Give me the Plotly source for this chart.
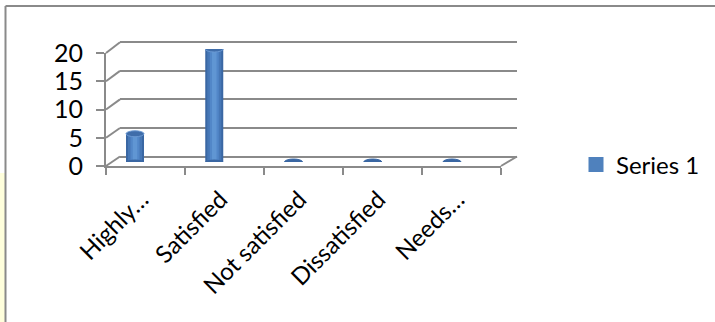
import plotly.graph_objects as go

# ---- data ----
categories = ["Highly…", "Satisfied", "Not satisfied", "Dissatisfied", "Needs…"]
values = [5, 20, 0, 0, 0]
series_name = "Series 1"
y_ticks = [0, 5, 10, 15, 20]

# ---- layout constants (pixels) ----
W, H = 715, 322
FONT = "Lato, Carlito, Calibri, sans-serif"
GRID = "#8a8a8a"

def px(x):
    return x / W

def py(y):
    return 1 - y / H

# front axis frame
FX0, FX1, FY0, FY1 = 106, 501, 166, 53
# back wall
BX0, BX1, BY0, BY1 = 120, 517, 156.5, 42.3
# bar plane (mid depth)
STEP = 79.25
BAR_C0 = 135
BX_L, BX_R = BAR_C0 - STEP / 2, BAR_C0 - STEP / 2 + 5 * STEP
BARY0, BARY1 = 162, 49
BAR_PX = 18

YMAX = 20.0
PAD = 0.6  # data units of padding so edge gridlines are drawn


def back_y(v):
    return BY0 + (BY1 - BY0) * v / YMAX


fig = go.Figure()

idx = list(range(len(categories)))
bar_w = BAR_PX / STEP
# cylinder shading via overlaid bars
for w, col in [(1.0, "#3A67A3"), (0.78, "#4677B6"), (0.5, "#5287C8"), (0.25, "#6096D3")]:
    fig.add_trace(go.Bar(x=idx, y=values, width=bar_w * w, marker=dict(color=col, line=dict(width=0)),
                         xaxis="x3", yaxis="y3", showlegend=False, hoverinfo="skip"))

# legend entry
fig.add_trace(go.Scatter(x=[None], y=[None], mode="markers", name=series_name,
                         marker=dict(symbol="square", size=15, color="#4F81BD"),
                         xaxis="x3", yaxis="y3"))

# dummy traces on back wall & front axes to make them render
fig.add_trace(go.Scatter(x=[None], y=[None], xaxis="x", yaxis="y", showlegend=False))
fig.add_trace(go.Scatter(x=categories, y=[None] * len(categories), xaxis="x2", yaxis="y2", showlegend=False))

shapes = []
# cylinder bottoms and tops
for i, v in zip(idx, values):
    shapes.append(dict(type="circle", xref="x3", yref="y3", xsizemode="pixel", ysizemode="pixel",
                       xanchor=i, yanchor=0, x0=-BAR_PX / 2, x1=BAR_PX / 2, y0=-2.5, y1=2.5,
                       fillcolor="#3A67A3", line=dict(width=0), layer="above"))
    shapes.append(dict(type="circle", xref="x3", yref="y3", xsizemode="pixel", ysizemode="pixel",
                       xanchor=i, yanchor=v, x0=-BAR_PX / 2, x1=BAR_PX / 2, y0=-3, y1=3,
                       fillcolor="#3F6DAA" if v > 0 else "#3A67A3",
                       line=dict(width=1, color="#6A98D2" if v > 0 else "#3A67A3"), layer="above"))

# diagonal connectors from front axis ticks to back wall gridlines
for t in y_ticks:
    yf = FY0 + (FY1 - FY0) * t / YMAX
    yb = back_y(t)
    shapes.append(dict(type="line", xref="paper", yref="paper", x0=px(FX0), y0=py(yf), x1=px(BX0), y1=py(yb),
                       line=dict(color=GRID, width=2), layer="below"))
# floor right edge
shapes.append(dict(type="line", xref="paper", yref="paper", x0=px(FX1), y0=py(FY0), x1=px(BX1), y1=py(BY0),
                   line=dict(color=GRID, width=2), layer="below"))
# chart border (top and left) and pale yellow strip
shapes.append(dict(type="rect", xref="paper", yref="paper", x0=0, x1=px(5), y0=0, y1=py(173),
                   fillcolor="#FFFFDC", line=dict(width=0), layer="below"))
shapes.append(dict(type="line", xref="paper", yref="paper", x0=px(5.5), y0=py(6), x1=1, y1=py(6),
                   line=dict(color="#8a8a8a", width=2)))
shapes.append(dict(type="line", xref="paper", yref="paper", x0=px(5.5), y0=py(6), x1=px(5.5), y1=0,
                   line=dict(color="#8a8a8a", width=2)))

fig.update_layout(
    width=W, height=H,
    margin=dict(l=0, r=0, t=0, b=0, pad=0, autoexpand=False),
    paper_bgcolor="white", plot_bgcolor="rgba(0,0,0,0)",
    font=dict(family=FONT, color="black"),
    barmode="overlay",
    shapes=shapes,
    showlegend=True,
    legend=dict(x=px(576), y=py(165), xanchor="left", yanchor="middle",
                font=dict(size=24, family=FONT, color="black"), bgcolor="rgba(0,0,0,0)"),
    # back wall
    xaxis=dict(domain=[px(BX0), px(BX1)], range=[0, 1], visible=False, anchor="y", automargin=False),
    yaxis=dict(domain=[py(back_y(-PAD)), py(back_y(YMAX + PAD))], range=[-PAD, YMAX + PAD], anchor="x",
               automargin=False, tickvals=y_ticks, showticklabels=False, ticks="", showgrid=True,
               gridcolor=GRID, gridwidth=2, zeroline=False, showline=False),
    # front axes
    xaxis2=dict(domain=[px(FX0), px(FX1)], type="category", categoryorder="array", categoryarray=categories,
                range=[-0.5, len(categories) - 0.5], anchor="y2", automargin=False,
                showline=True, linecolor=GRID, linewidth=2, ticks="outside", tickson="boundaries",
                ticklen=7, tickwidth=2, tickcolor=GRID, tickangle=-45, showgrid=False,
                ticklabelstandoff=8, ticklabelshift=-4,
                tickfont=dict(size=24, family=FONT, color="black")),
    yaxis2=dict(domain=[py(FY0), py(FY1)], range=[0, YMAX], anchor="x2", automargin=False,
                tickvals=y_ticks, showline=True, linecolor=GRID, linewidth=2, ticks="outside",
                ticklen=8, tickwidth=2, tickcolor=GRID, showgrid=False, zeroline=False,
                ticklabelstandoff=8, tickfont=dict(size=25, family=FONT, color="black")),
    # bar plane
    xaxis3=dict(domain=[px(BX_L), px(BX_R)], range=[-0.5, len(categories) - 0.5], visible=False,
                anchor="y3", automargin=False),
    yaxis3=dict(domain=[py(BARY0), py(BARY1)], range=[0, YMAX], visible=False, anchor="x3", automargin=False),
)

fig.write_html("out.html")
